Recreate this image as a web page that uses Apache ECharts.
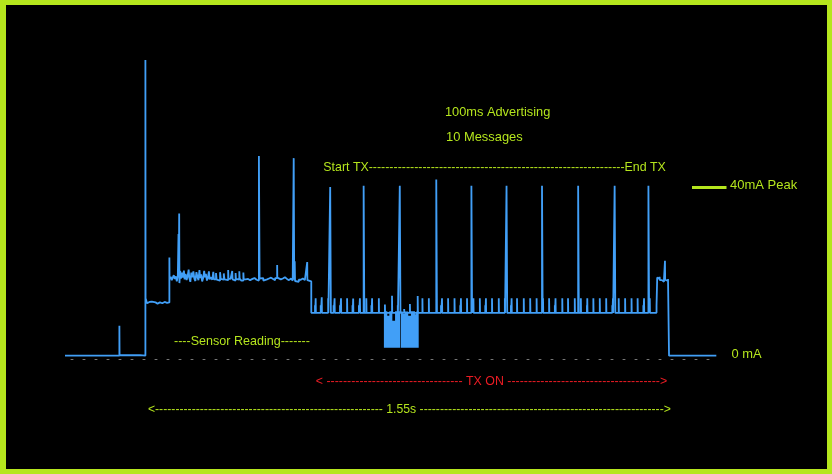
<!DOCTYPE html>
<html>
<head>
<meta charset="utf-8">
<script src="https://cdn.jsdelivr.net/npm/echarts@6/dist/echarts.min.js"></script>
<style>
html,body{margin:0;padding:0;background:#000;}
#chart{width:832px;height:474px;}
</style>
</head>
<body>
<div id="chart"></div>
<script>
// ---- Data: time in ms from start of capture, current in mA ----
const idleTrace = [[0, -0.1], [161, 7.0], [161.5, 0.0], [222, -0.1]];

const sensorTrace = [
  [238, 70.4], [238.5, 13.6], [243, 12.4], [247, 12.7], [250, 12.3], [254, 12.8], [257, 12.4],
  [262, 12.6], [268, 12.3], [274, 12.6], [281, 12.4], [288, 12.7], [295, 12.5], [302, 12.6],
  [309, 23.3], [309.5, 18.2], [313, 18.7], [316, 17.9], [319, 18.5], [322, 19.1], [325, 18.2],
  [328, 18.8], [331, 17.6], [334, 19.0], [336, 28.9], [337, 19.6], [338, 33.8], [338.7, 17.2],
  [341, 20.1], [343, 18.3], [346, 19.7], [349, 18.5], [352, 20.2], [354, 18.1], [357, 19.4],
  [360, 17.9], [363, 18.9], [366, 20.4], [368, 18.4], [371, 17.5], [374, 19.7], [377, 18.6],
  [380, 20.0], [383, 18.2], [386, 17.7], [389, 19.8], [392, 18.7], [395, 17.9], [398, 20.3],
  [400, 18.4], [403, 19.3], [406, 17.6], [409, 18.4], [412, 20.1], [414, 18.6], [417, 19.4],
  [420, 17.8], [423, 18.5], [426, 20.0], [428, 18.1], [431, 18.6], [436, 18.0], [439, 19.9],
  [441, 18.1], [447, 19.6], [449, 18.0], [453, 17.8], [459, 19.8], [461, 18.2], [466, 18.0],
  [470, 19.5], [472, 18.1], [477, 17.9], [483, 20.3], [484, 18.2], [490, 18.0], [495, 20.1],
  [496, 18.1], [500, 17.8], [505, 19.6], [506, 18.2], [511, 18.0], [516, 20.0], [517, 18.3],
  [522, 17.8], [528, 19.7], [529, 18.1], [535, 18.2], [542, 17.9], [548, 18.2], [555, 18.4],
  [561, 18.0], [567, 17.8], [574, 47.5], [576, 18.3], [581, 18.4], [587, 17.8], [592, 18.1],
  [598, 18.3], [604, 18.5], [610, 18.2], [616, 17.9], [622, 18.4], [628, 21.5], [628.5, 18.5],
  [633, 18.1], [639, 18.3], [645, 18.6], [651, 18.2], [657, 17.9], [663, 18.3], [669, 18.1],
  [674, 17.8], [677, 47.0], [678.5, 18.0], [680, 22.4], [681, 17.7], [686, 17.5], [692, 18.0],
  [698, 18.3], [704, 17.9], [710, 18.1], [715, 17.7], [717, 22.2], [717.5, 17.9], [723, 17.6]
];

const txStart = 729;
const txBase = 10.1;
const bigSpikeTimes   = [785, 884, 991, 1099, 1203, 1307, 1412, 1519, 1627, 1727];
const bigSpikeHeights = [40.1, 40.4, 40.4, 41.9, 40.4, 40.4, 40.4, 40.4, 40.4, 40.4];
const smallSpikeTimes = [742, 760, 779, 798, 817, 835, 853, 873, 892, 909, 929, 947, 968, 985,
  1004, 1021, 1044, 1058, 1077, 1116, 1134, 1153, 1172, 1190, 1209, 1228, 1246, 1264, 1284,
  1302, 1322, 1338, 1358, 1377, 1396, 1415, 1433, 1452, 1472, 1489, 1509, 1527, 1546, 1564,
  1583, 1602, 1622, 1639, 1658, 1677, 1695, 1714, 1731];
const smallSpikeHeights = [13.6, 13.8, 13.6, 13.6, 13.6, 13.6, 13.5, 13.6, 13.6, 13.6, 13.6, 12.1, 14.2, 11.9,
  11.0, 12.2, 14.1, 13.6, 13.6, 13.6, 13.6, 13.6, 13.6, 13.6, 13.6, 13.6, 13.6, 13.6, 13.6,
  13.6, 13.6, 13.6, 13.6, 13.6, 13.6, 13.6, 13.6, 13.6, 13.6, 13.6, 13.6, 13.6, 13.6, 13.6,
  13.6, 13.6, 13.6, 13.6, 13.6, 13.6, 13.6, 13.6, 13.6];
const shortSpikeTimes = [740, 757, 795, 814, 851, 870, 907, 1113, 1170, 1244, 1320, 1450, 1545, 1620, 1712];
const shortSpikeHeights = [11.9, 11.9, 11.9, 11.9, 11.9, 11.9, 11.9, 11.9, 11.9, 11.9, 11.9, 11.9, 11.9, 11.9, 11.9];

const rxBlockA = [[944, 10.5], [954, 9.4], [960, 10.5], [969, 8.2], [977, 10.5], [992, 10.5]];
const rxBlockB = [[994, 10.4], [1000, 9.9], [1006, 10.4], [1016, 9.4], [1024, 10.5], [1036, 9.6], [1041, 10.5], [1047, 10.5]];
const rxFloor = 1.8;

const postTxTrace = [[1751, 11.8], [1753, 18.5], [1757, 18.2], [1760, 18.7], [1761, 17.9], [1767, 17.5],
  [1773, 18.0], [1776, 22.5], [1776.5, 18.0], [1780, 17.7], [1785, 18.2], [1788, -0.1], [1928, -0.1]];

// ---- Build the trace ----
const events = [];
bigSpikeTimes.forEach((t, i) => events.push({t, h: bigSpikeHeights[i], w: 2}));
smallSpikeTimes.forEach((t, i) => events.push({t, h: smallSpikeHeights[i], w: 0.6}));
shortSpikeTimes.forEach((t, i) => events.push({t, h: shortSpikeHeights[i], w: 0.6}));
events.sort((a, b) => a.t - b.t);
const txTrace = [[txStart, txBase]];
events.forEach(e => { txTrace.push([e.t, e.h]); txTrace.push([e.t + e.w, txBase]); });
const trace = idleTrace.concat(sensorTrace, txTrace, postTxTrace);

const YEL = '#b5e61d', RED = '#ed1c24', BLUE = '#419ff7';
const FONT = "'Liberation Sans', Arial, sans-serif";

function txt(x, y, text, size, color, align) {
  return {type: 'text', x: x, y: y, silent: true,
    style: {text: text, fill: color, font: size + 'px ' + FONT, align: align || 'left', verticalAlign: 'middle'}};
}
const dash = n => '-'.repeat(n);

const chart = echarts.init(document.getElementById('chart'), null, {renderer: 'canvas'});
chart.setOption({
  backgroundColor: '#000',
  animation: false,
  grid: {left: 65, right: 115, top: 60, bottom: 115, containLabel: false},
  xAxis: {
    type: 'value', min: 0, max: 1930,
    axisLine: {show: true, onZero: false, lineStyle: {color: '#777', width: 1, type: [2, 10], dashOffset: 6}},
    axisTick: {show: false}, axisLabel: {show: false}, splitLine: {show: false}
  },
  yAxis: {type: 'value', min: -0.9, max: 70.4, show: false, splitLine: {show: false}},
  series: [
    {type: 'line', step: 'end', data: rxBlockA, showSymbol: false, z: 2,
      lineStyle: {width: 0}, areaStyle: {color: BLUE, opacity: 1, origin: rxFloor}},
    {type: 'line', step: 'end', data: rxBlockB, showSymbol: false, z: 2,
      lineStyle: {width: 0}, areaStyle: {color: BLUE, opacity: 1, origin: rxFloor}},
    {type: 'line', step: 'end', data: trace, showSymbol: false, z: 3,
      lineStyle: {width: 1.8, color: BLUE}}
  ],
  graphic: [
    {type: 'rect', shape: {x: 0, y: 0, width: 832, height: 5}, style: {fill: YEL}, silent: true},
    {type: 'rect', shape: {x: 0, y: 0, width: 6, height: 474}, style: {fill: YEL}, silent: true},
    {type: 'rect', shape: {x: 827, y: 0, width: 5, height: 474}, style: {fill: YEL}, silent: true},
    {type: 'rect', shape: {x: 0, y: 469, width: 832, height: 5}, style: {fill: YEL}, silent: true},
    {type: 'rect', shape: {x: 692, y: 186, width: 34.5, height: 3}, style: {fill: YEL}, silent: true},
    txt(445, 112.5, '100ms Advertising', 12.8, YEL),
    txt(446, 137, '10 Messages', 12.9, YEL),
    txt(323.3, 167.2, 'Start TX' + dash(62) + 'End TX', 12.4, YEL),
    txt(730, 185.5, '40mA Peak', 13, YEL),
    txt(731.5, 354.5, '0 mA', 12.9, YEL),
    txt(174, 341.3, dash(4) + 'Sensor Reading' + dash(7), 12.55, YEL),
    txt(315.7, 382, '< ' + dash(33) + ' TX ON ' + dash(37) + '>', 12.4, RED),
    txt(147.9, 409.5, '<' + dash(56) + ' 1.55s ' + dash(60) + '>', 12.22, YEL)
  ]
});
</script>
</body>
</html>
